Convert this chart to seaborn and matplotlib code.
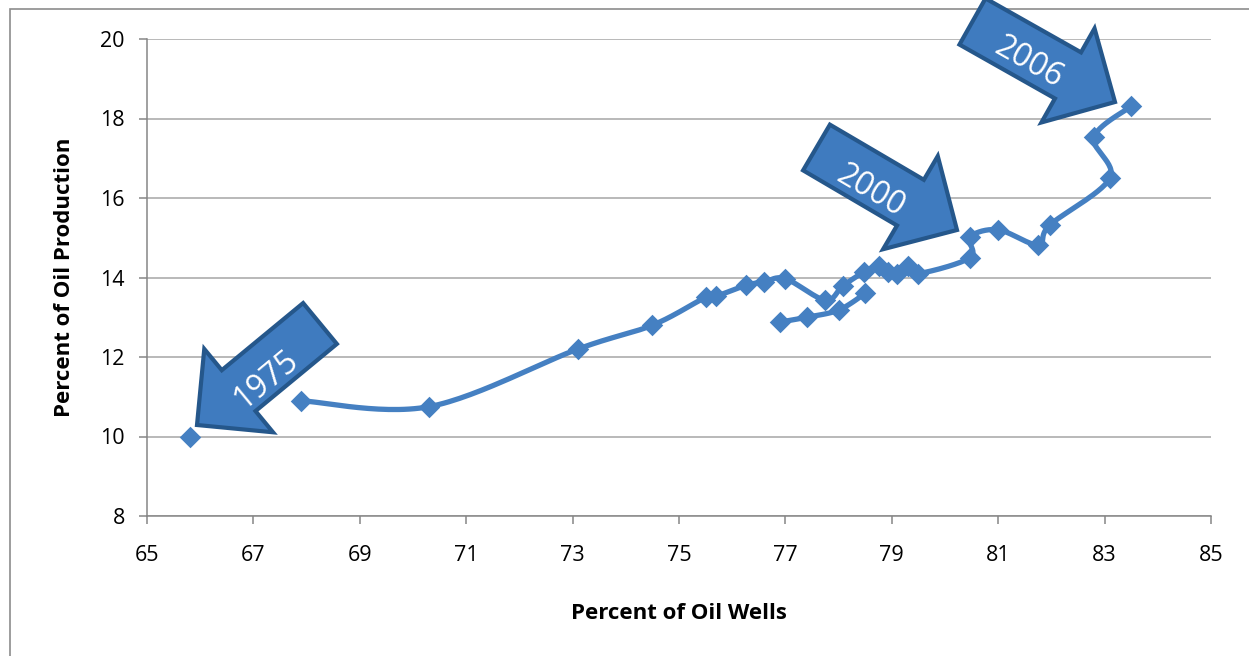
import numpy as np
import matplotlib
matplotlib.use("Agg")
import matplotlib.pyplot as plt
from matplotlib.patches import Polygon, Rectangle
import seaborn as sns

# ---- data ----
first_x = [65.8]          # 1975, not connected to the line
first_y = [10.0]

main_x = [67.9, 70.3, 73.1, 74.5, 75.5, 75.7, 76.25, 76.6, 77.0, 77.75,
          78.08, 78.48, 78.76, 78.93, 79.1, 79.3, 79.5, 80.47, 80.47,
          81.0, 81.75, 81.97, 83.1, 82.8, 83.5]
main_y = [10.9, 10.75, 12.2, 12.8, 13.5, 13.53, 13.8, 13.89, 13.97, 13.43,
          13.79, 14.14, 14.3, 14.13, 14.1, 14.3, 14.1, 14.5, 15.02,
          15.2, 14.82, 15.32, 16.5, 17.53, 18.31]

branch_x = [76.9, 77.4, 78.0, 78.5]
branch_y = [12.88, 13.0, 13.18, 13.6]

x_ticks = [65, 67, 69, 71, 73, 75, 77, 79, 81, 83, 85]
y_ticks = [8, 10, 12, 14, 16, 18, 20]

arrow_labels = ["1975", "2000", "2006"]

BLUE = "#4580C2"
ARROW = "#3F7BBF"
EDGE = "#25578B"

W, H = 1249, 656

sns.set_theme(style="white")
plt.rcParams["font.family"] = ["Open Sans", "DejaVu Sans"]


def smooth(xs, ys, n=30):
    pts = np.column_stack([xs, ys]).astype(float)
    N = len(pts)
    out = [pts[0]]
    t = np.linspace(0, 1, n)[1:, None]
    for i in range(N - 1):
        p0 = pts[i - 1] if i > 0 else pts[i]
        p1 = pts[i]
        p2 = pts[i + 1]
        p3 = pts[i + 2] if i + 2 < N else pts[i + 1]
        b1 = p1 + (p2 - p0) / 6.0
        b2 = p2 - (p3 - p1) / 6.0
        seg = ((1 - t) ** 3) * p1 + 3 * ((1 - t) ** 2) * t * b1 \
            + 3 * (1 - t) * t ** 2 * b2 + t ** 3 * p2
        out.extend(seg)
    return np.array(out)


fig = plt.figure(figsize=(W / 100, H / 100), dpi=100)
ax = fig.add_axes([147 / W, (H - 516) / H, 1064 / W, 477 / H])

for xs, ys in [(main_x, main_y), (branch_x, branch_y)]:
    c = smooth(xs, ys)
    sns.lineplot(x=c[:, 0], y=c[:, 1], sort=False, estimator=None,
                 color=BLUE, linewidth=3.8, ax=ax, zorder=2)

all_x = first_x + main_x + branch_x
all_y = first_y + main_y + branch_y
sns.scatterplot(x=all_x, y=all_y, marker="D", s=120, color=BLUE,
                edgecolor=BLUE, linewidth=0, ax=ax, zorder=3)

ax.set_xlim(65, 85)
ax.set_ylim(8, 20)
ax.set_xticks(x_ticks)
ax.set_yticks(y_ticks)
ax.grid(axis="y", color="#A6A6A6", lw=1.1)
ax.grid(axis="x", visible=False)
ax.set_axisbelow(True)
for s in ["top", "right"]:
    ax.spines[s].set_visible(False)
for s in ["left", "bottom"]:
    ax.spines[s].set_color("#868686")
    ax.spines[s].set_linewidth(1.1)
ax.tick_params(axis="x", length=6, width=1.1, color="#868686", pad=15,
               labelsize=15.5, direction="out", bottom=True, labelcolor="black")
ax.tick_params(axis="y", length=6, width=1.1, color="#868686", pad=10,
               labelsize=15.5, direction="out", left=True, labelcolor="black")
ax.set_xlabel("Percent of Oil Wells", fontweight="bold", fontsize=16,
              color="black")
ax.set_ylabel("Percent of Oil Production", fontweight="bold", fontsize=16,
              color="black")
ax.xaxis.set_label_coords(0.5, -0.182)
ax.yaxis.set_label_coords(-0.068, 0.5)

# outer chart border
fig.add_artist(Rectangle((10 / W, -0.1), 1.2, 1 - 9 / H + 0.1,
                         transform=fig.transFigure, fill=False,
                         ec="#8C8C8C", lw=1.2))


def block_arrow(tail, tip, sw, hw, hl):
    tail = np.array(tail, float)
    tip = np.array(tip, float)
    d = (tip - tail) / np.linalg.norm(tip - tail)
    p = np.array([-d[1], d[0]])
    base = tip - d * hl
    pts = [tail + p * sw / 2, base + p * sw / 2, base + p * hw / 2, tip,
           base - p * hw / 2, base - p * sw / 2, tail - p * sw / 2]
    return [(q[0] / W, 1 - q[1] / H) for q in pts]


arrows = [
    # tail centre, tip, text centre, rotation (pixel coords, y down)
    ((320, 323.5), (197, 425), (266, 380), 39.5),
    ((816.5, 147.5), (957, 230), (870, 191), -30.4),
    ((972.5, 21.5), (1115, 102), (1028, 63), -29.5),
]
for (tail, tip, tc, rot), lab in zip(arrows, arrow_labels):
    fig.add_artist(Polygon(block_arrow(tail, tip, 53, 108, 54), closed=True,
                           transform=fig.transFigure, fc=ARROW, ec=EDGE,
                           lw=3, joinstyle="miter", zorder=5))
    fig.text(tc[0] / W, 1 - tc[1] / H, lab, rotation=rot,
             rotation_mode="anchor", ha="center", va="center",
             color="white", fontsize=23, zorder=6)

fig.savefig("out.png", dpi=100)
